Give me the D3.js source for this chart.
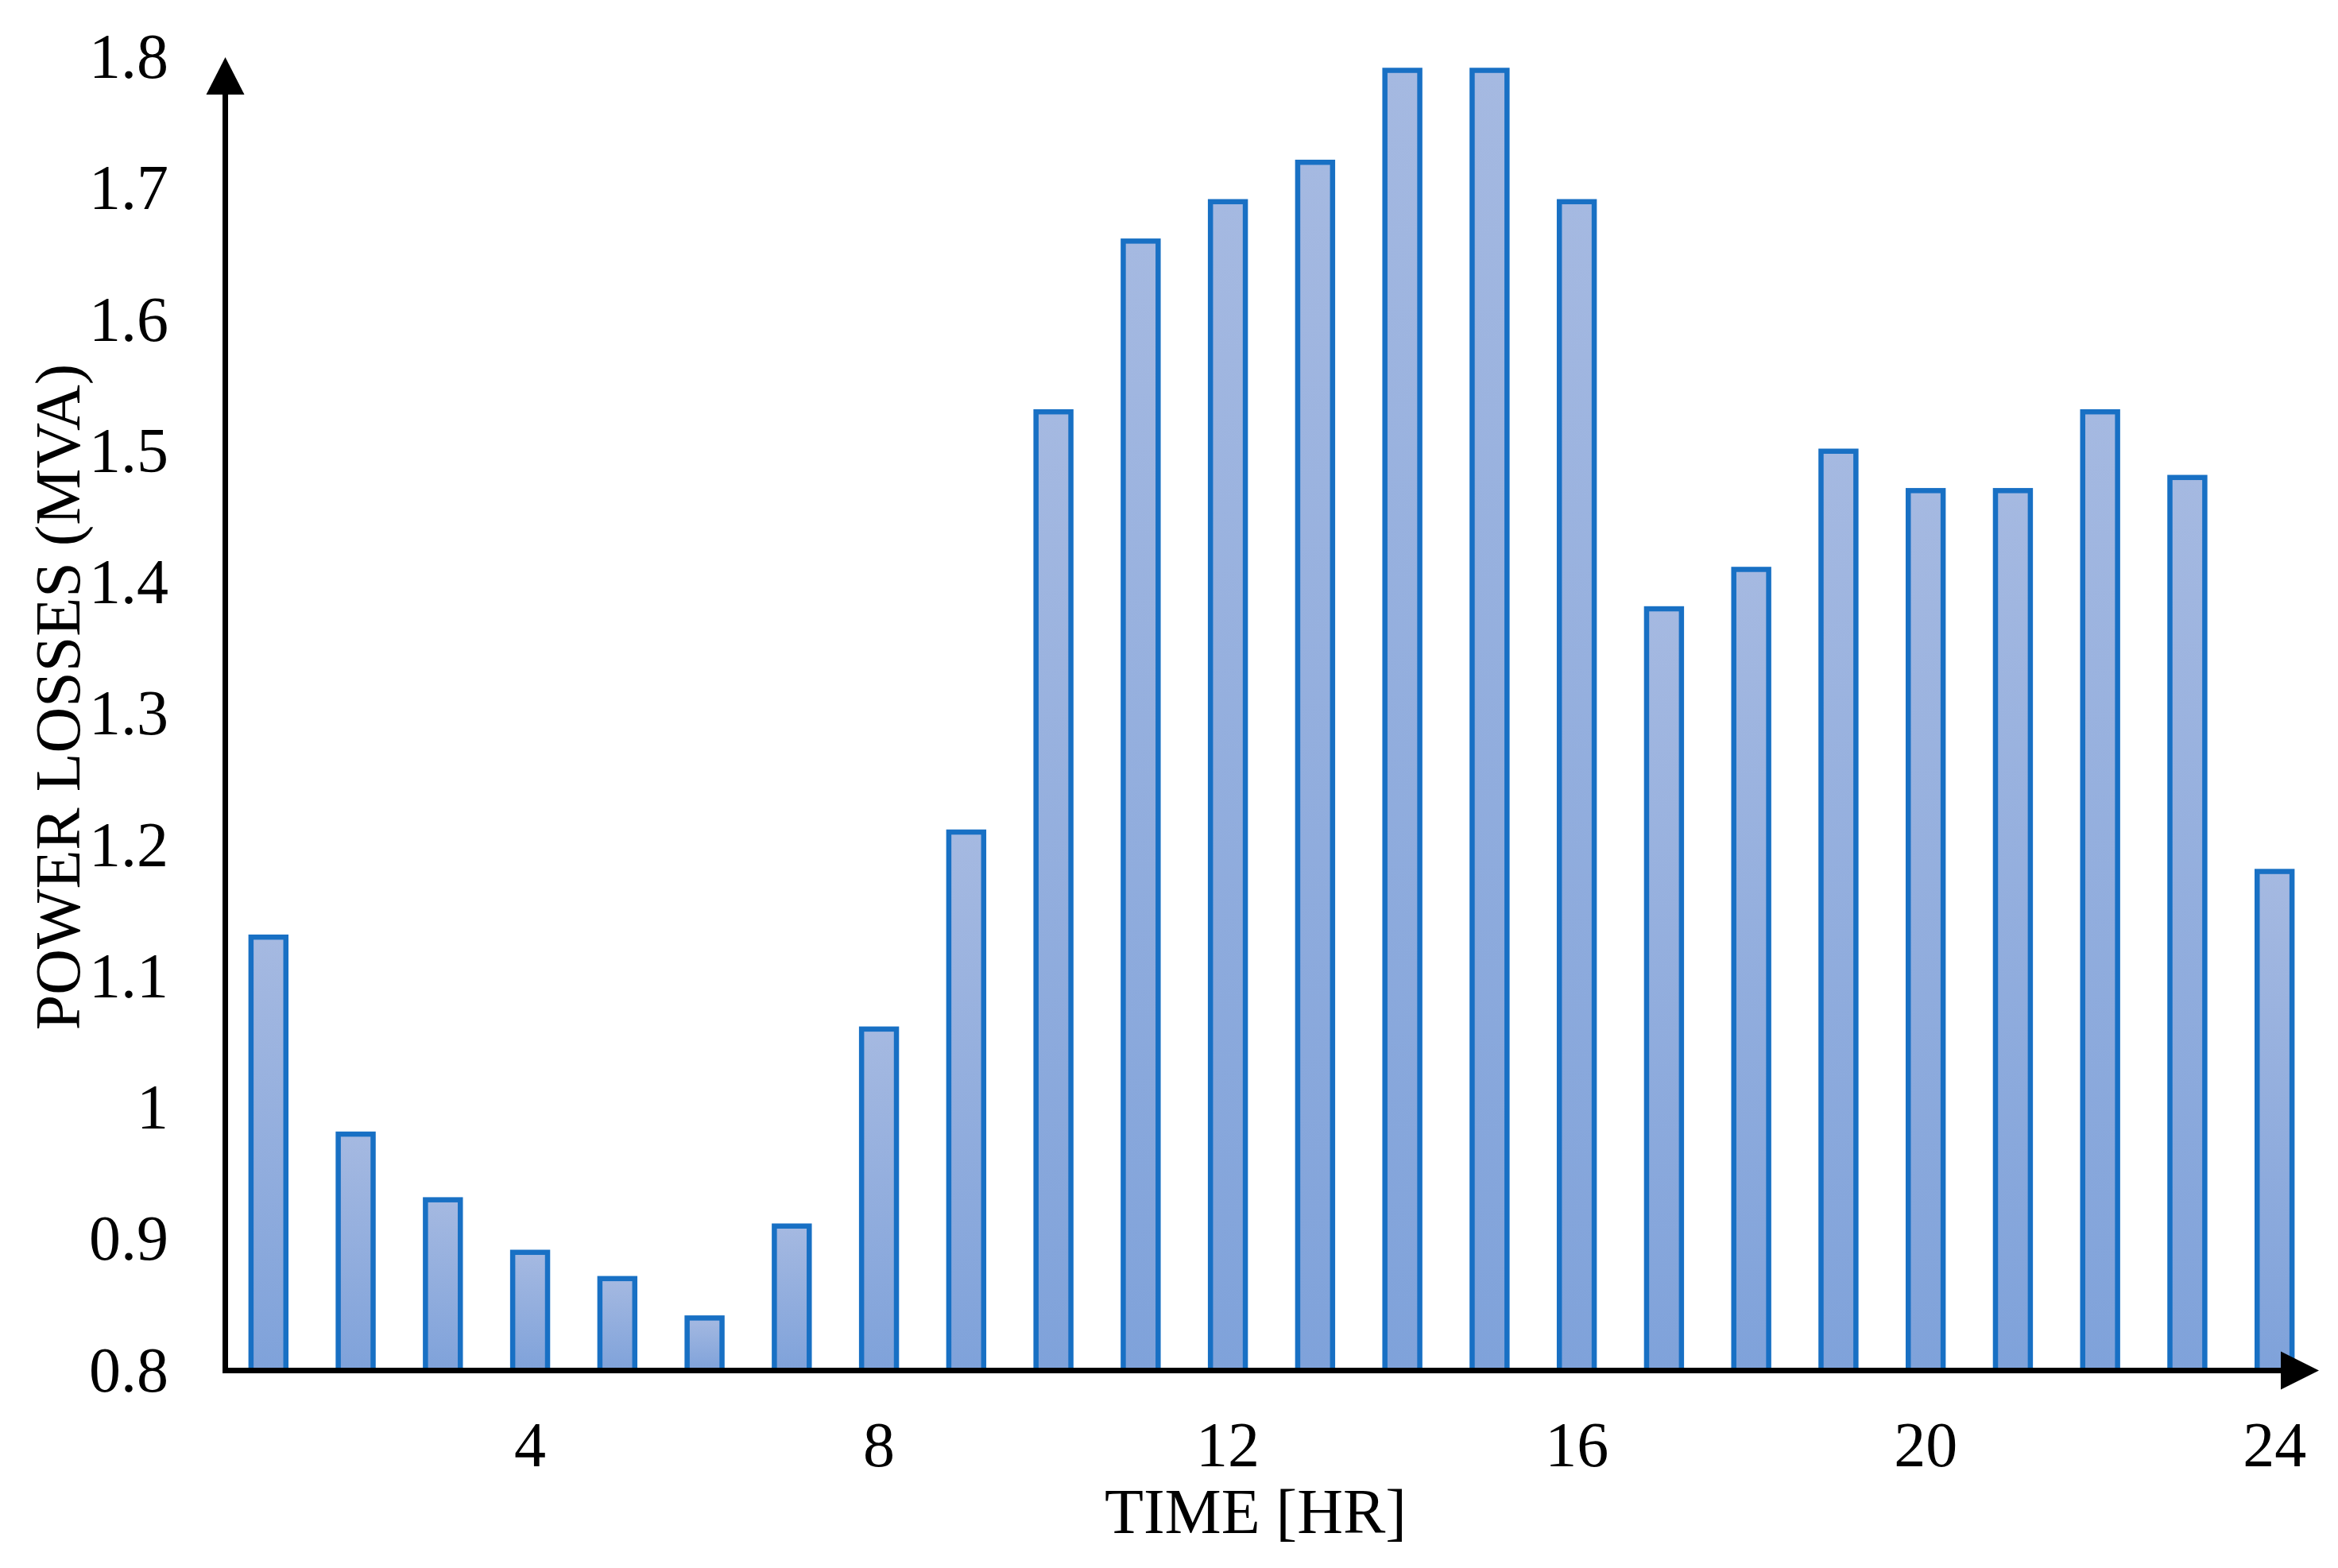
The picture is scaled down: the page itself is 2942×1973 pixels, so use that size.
<!DOCTYPE html>
<html>
<head>
<meta charset="utf-8">
<script src="https://cdn.jsdelivr.net/npm/d3@7"></script>
<style>
  body { margin: 0; background: #fff; }
  text { font-family: "Liberation Serif", "Times New Roman", serif; fill: #000; }
</style>
</head>
<body>
<script>
// hourly power losses
var hours = d3.range(1, 25);
var losses = [1.13, 0.98, 0.93, 0.89, 0.87, 0.84, 0.91, 1.06, 1.21, 1.53, 1.66, 1.69,
              1.72, 1.79, 1.79, 1.69, 1.38, 1.41, 1.50, 1.47, 1.47, 1.53, 1.48, 1.18];
var xTickLabels = [4, 8, 12, 16, 20, 24];
var yTickLabels = [0.8, 0.9, 1.0, 1.1, 1.2, 1.3, 1.4, 1.5, 1.6, 1.7, 1.8];

var width = 2942, height = 1973;
var axisX = 283.5, axisY = 1724.5;

var svg = d3.select("body").append("svg")
    .attr("width", width)
    .attr("height", height);

var x = d3.scaleBand()
    .domain(hours)
    .range([250, 2950])
    .paddingInner(0.6)
    .paddingOuter(0.6);

var y = d3.scaleLinear()
    .domain([0.8, 1.8])
    .range([axisY, 72]);

// bar gradient, light at the top, darker at the bottom
var grad = svg.append("defs").append("linearGradient")
    .attr("id", "barFill")
    .attr("x1", 0).attr("y1", 0)
    .attr("x2", 0).attr("y2", 1);
grad.append("stop").attr("offset", "0%").attr("stop-color", "#a5b9e1");
grad.append("stop").attr("offset", "100%").attr("stop-color", "#7fa2da");

svg.append("g")
  .selectAll("rect")
  .data(hours)
  .enter().append("rect")
    .attr("x", function(d) { return x(d); })
    .attr("y", function(d, i) { return y(losses[i]); })
    .attr("width", x.bandwidth())
    .attr("height", function(d, i) { return y(0.8) - y(losses[i]); })
    .attr("fill", "url(#barFill)")
    .attr("stroke", "#1870c4")
    .attr("stroke-width", 6.5);

// y axis labels
var yAxis = svg.append("g")
    .attr("transform", "translate(" + axisX + ",0)")
    .call(d3.axisLeft(y)
        .tickValues(yTickLabels)
        .tickSize(0)
        .tickPadding(71.5)
        .tickFormat(function(d) { return String(+d.toFixed(1)); }));
yAxis.select(".domain").remove();
yAxis.selectAll("text")
    .attr("font-family", "Liberation Serif, serif")
    .attr("font-size", 80);

// x axis labels
var xAxis = svg.append("g")
    .attr("transform", "translate(0," + axisY + ")")
    .call(d3.axisBottom(x)
        .tickValues(xTickLabels)
        .tickSize(0)
        .tickPadding(64));
xAxis.select(".domain").remove();
xAxis.selectAll("text")
    .attr("font-family", "Liberation Serif, serif")
    .attr("font-size", 80);

// axis lines with arrow heads
svg.append("line")
    .attr("x1", axisX).attr("x2", axisX)
    .attr("y1", axisY + 3.5).attr("y2", 115)
    .attr("stroke", "#000").attr("stroke-width", 7);
svg.append("path")
    .attr("d", "M" + (axisX - 24) + ",119L" + axisX + ",72L" + (axisX + 24) + ",119Z")
    .attr("fill", "#000");

svg.append("line")
    .attr("x1", axisX - 3.5).attr("x2", 2874)
    .attr("y1", axisY).attr("y2", axisY)
    .attr("stroke", "#000").attr("stroke-width", 7);
svg.append("path")
    .attr("d", "M2870," + (axisY - 24) + "L2918," + axisY + "L2870," + (axisY + 24) + "Z")
    .attr("fill", "#000");

// titles
svg.append("text")
    .attr("x", 1580)
    .attr("y", 1929)
    .attr("text-anchor", "middle")
    .attr("font-size", 80)
    .text("TIME [HR]");

svg.append("text")
    .attr("transform", "translate(100,877) rotate(-90)")
    .attr("text-anchor", "middle")
    .attr("font-size", 80)
    .text("POWER LOSSES (MVA)");
</script>
</body>
</html>
